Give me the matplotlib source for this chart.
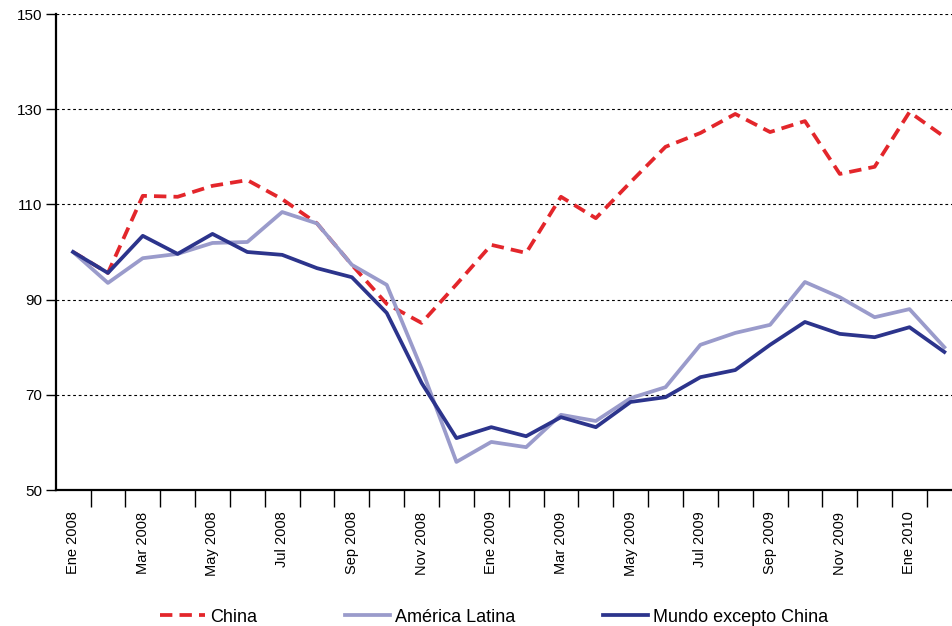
import matplotlib
matplotlib.use("Agg")
import matplotlib.pyplot as plt
import numpy as np

months = ["Ene 2008", "Feb 2008", "Mar 2008", "Abr 2008", "May 2008", "Jun 2008",
          "Jul 2008", "Ago 2008", "Sep 2008", "Oct 2008", "Nov 2008", "Dic 2008",
          "Ene 2009", "Feb 2009", "Mar 2009", "Abr 2009", "May 2009", "Jun 2009",
          "Jul 2009", "Ago 2009", "Sep 2009", "Oct 2009", "Nov 2009", "Dic 2009",
          "Ene 2010", "Feb 2010"]

china = [100, 95.6, 111.8, 111.6, 113.9, 115.1, 111.1, 106.0, 97.3, 89.1, 85.1, 93.2,
         101.5, 99.8, 111.6, 107.1, 114.7, 122.1, 125.0, 129.0, 125.2, 127.5, 116.4,
         117.9, 129.4, 124.2]
america_latina = [100, 93.5, 98.7, 99.6, 101.9, 102.1, 108.4, 106.0, 97.3, 93.1, 75.5,
                  55.9, 60.1, 59.0, 65.8, 64.5, 69.3, 71.6, 80.5, 83.0, 84.7, 93.7,
                  90.5, 86.3, 88.0, 80.0]
mundo = [100, 95.6, 103.4, 99.6, 103.8, 100.0, 99.4, 96.6, 94.7, 87.2, 72.5, 60.9,
         63.2, 61.3, 65.3, 63.2, 68.5, 69.5, 73.7, 75.2, 80.5, 85.3, 82.8, 82.1,
         84.2, 79.0]

series_names = ["China", "América Latina", "Mundo excepto China"]
yticks = [50, 70, 90, 110, 130, 150]

plt.rcParams['font.family'] = ['Liberation Sans', 'DejaVu Sans']

fig = plt.figure(figsize=(9.52, 6.26), dpi=100)
ax = fig.add_axes([56/952, 136/626, (952-56)/952, 476/626])

x = np.arange(len(months))
red = "#E3262B"
light = "#9A9BCB"
navy = "#2C348C"

ax.plot(x, china, color=red, lw=2.7, dashes=(3.3, 1.9), label=series_names[0], zorder=3)
ax.plot(x, america_latina, color=light, lw=2.7, label=series_names[1], zorder=4)
ax.plot(x, mundo, color=navy, lw=2.7, label=series_names[2], zorder=5)

for v in yticks[1:]:
    ax.axhline(v, color="black", lw=0.8, dashes=(2.5, 2.5), zorder=1)

ax.spines['top'].set_visible(False)
ax.spines['right'].set_visible(False)
ax.spines['left'].set_linewidth(1.6)
ax.spines['bottom'].set_linewidth(1.6)

ax.set_yticks(yticks)
ax.set_yticklabels([str(v) for v in yticks], fontsize=11)
ax.tick_params(axis='y', direction='out', length=7, width=1.0, pad=3)

ax.set_xticks(np.arange(len(months) + 1) - 0.5)
ax.set_xticklabels([])
ax.tick_params(axis='x', which='major', direction='out', length=12, width=1.0)
ax.set_xticks(x[::2], minor=True)
ax.set_xticklabels(months[::2], minor=True, rotation=90, fontsize=10.5, va='top', ha='center')
ax.tick_params(axis='x', which='minor', length=0, pad=15.5)

ax.set_xlim(-0.49, 25.22)
ax.set_ylim(50, 150)

leg = fig.legend(loc='center left', bbox_to_anchor=(160/952, (626-617)/626), ncol=3,
                 frameon=False, fontsize=13, handlelength=2.5, columnspacing=4.85,
                 handletextpad=0.28, borderpad=0, borderaxespad=0)

fig.savefig("out.png", dpi=100)
